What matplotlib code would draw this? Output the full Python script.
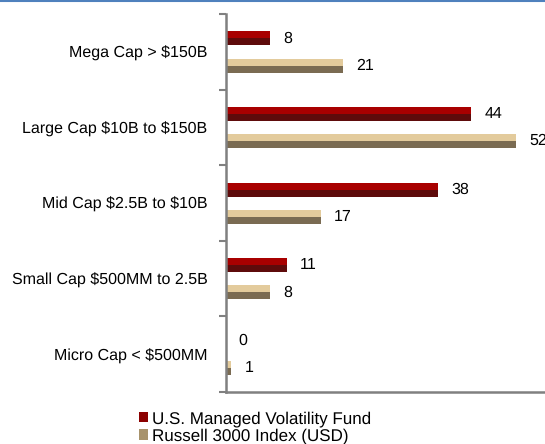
import matplotlib
matplotlib.use("Agg")
import matplotlib.pyplot as plt
from matplotlib.lines import Line2D
import numpy as np

plt.rcParams["font.family"] = ["Liberation Sans", "DejaVu Sans"]
plt.rcParams["text.hinting"] = "no_hinting"
plt.rcParams["text.hinting_factor"] = 1

categories = ["Mega Cap > \\$150B", "Large Cap \\$10B to \\$150B", "Mid Cap \\$2.5B to \\$10B",
              "Small Cap \\$500MM to 2.5B", "Micro Cap < \\$500MM"]
fund = [8, 44, 38, 11, 0]
russell = [21, 52, 17, 8, 1]
series_names = ["U.S. Managed Volatility Fund", "Russell 3000 Index (USD)"]

fig = plt.figure(figsize=(5.45, 4.44), dpi=100)
ax = fig.add_axes([0.414, 0.117, 1.029 - 0.414, 0.968 - 0.117])

y = np.arange(len(categories))
h = 0.185
off = 0.18
colors = {
    "fund": ("#A80000", "#5E0B0B"),
    "russ": ("#E3CB9C", "#7A6B52"),
}
for vals, sign, key in [(fund, -1, "fund"), (russell, 1, "russ")]:
    yc = y + sign * off
    light, dark = colors[key]
    ax.barh(yc - h / 4, vals, height=h / 2, color=light, edgecolor="none")
    ax.barh(yc + h / 4, vals, height=h / 2, color=dark, edgecolor="none")
    for yy, v in zip(yc, vals):
        ax.annotate(str(v), xy=(v, yy), xytext=(9.5, 0), textcoords="offset points",
                    ha="left", va="center", fontsize=11.5, color="#000000")

ax.set_ylim(len(categories) - 0.5, -0.5)
ax.set_xlim(0, 60)
ax.set_yticks(np.arange(-0.5, len(categories), 1.0))
ax.set_yticklabels([])
ax.set_yticks(y, minor=True)
ax.set_yticklabels(categories, minor=True, fontsize=11.5)
ax.tick_params(axis="y", which="minor", length=0, pad=13)
ax.tick_params(axis="y", which="major", length=5, width=1.5, color="#808080", direction="out")
ax.set_xticks([])
for s in ["top", "right"]:
    ax.spines[s].set_visible(False)
for s in ["left", "bottom"]:
    ax.spines[s].set_color("#808080")
    ax.spines[s].set_linewidth(1.8)

fig.add_artist(Line2D([0, 1], [0.998, 0.998], transform=fig.transFigure,
                      color="#4F81BD", linewidth=1.5))

handles = [
    plt.Rectangle((0, 0), 1, 1, facecolor="#8B0000", edgecolor="none"),
    plt.Rectangle((0, 0), 1, 1, facecolor="#A8936C", edgecolor="none"),
]
fig.legend(handles, series_names, loc="lower left", bbox_to_anchor=(0.232, -0.028),
           frameon=False, fontsize=12.5, handlelength=0.55, handleheight=0.55,
           handletextpad=0.25, labelspacing=0.1, borderpad=0.2)

fig.savefig("out.png", dpi=100)
